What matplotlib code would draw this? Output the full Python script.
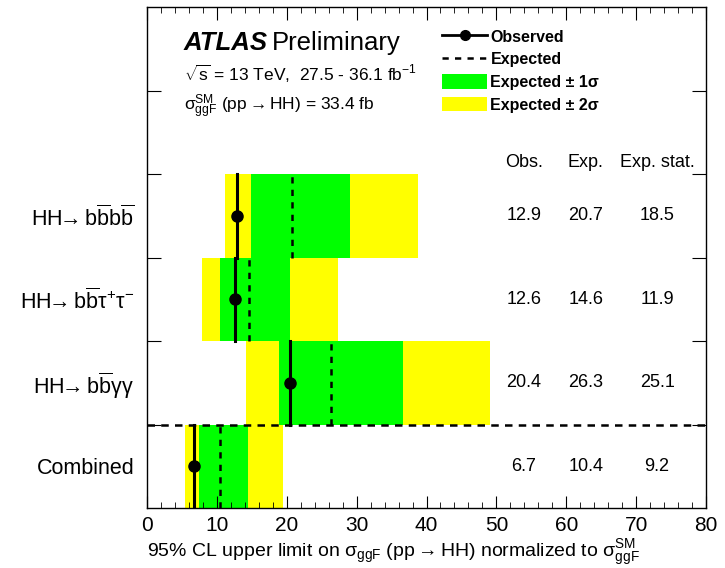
import matplotlib
matplotlib.use('Agg')
import matplotlib.pyplot as plt
from matplotlib.lines import Line2D
from matplotlib.patches import Patch
import numpy as np

plt.rcParams['font.family'] = ['Liberation Sans', 'DejaVu Sans']
plt.rcParams['mathtext.fontset'] = 'custom'
plt.rcParams['mathtext.rm'] = 'Liberation Sans'
plt.rcParams['mathtext.it'] = 'Liberation Sans'
plt.rcParams['mathtext.bf'] = 'Liberation Sans:bold'

arrow = r'$\!\!\rightarrow\!\!$'

# channels from bottom to top
channels = ['Combined',
            'HH' + arrow + r' b$\overline{\mathrm{b}}$γγ',
            'HH' + arrow + r' b$\overline{\mathrm{b}}$τ$^{+}$τ$^{-}$',
            'HH' + arrow + r' b$\overline{\mathrm{b}}$b$\overline{\mathrm{b}}$']
obs = [6.7, 20.4, 12.6, 12.9]
exp = [10.4, 26.3, 14.6, 20.7]
exp_stat = [9.2, 25.1, 11.9, 18.5]
m2s = [5.5, 14.1, 7.8, 11.2]
m1s = [7.4, 18.9, 10.5, 14.9]
p1s = [14.4, 36.6, 20.4, 29.0]
p2s = [19.4, 49.1, 27.4, 38.8]

green = '#00ff00'
yellow = '#ffff00'

fig = plt.figure(figsize=(7.25, 5.68), dpi=100)
ax = fig.add_axes([147/725, 60/568, 559/725, 501/568])

for i in range(len(channels)):
    ax.fill_betweenx([i, i + 1], m2s[i], p2s[i], color=yellow, lw=0)
    ax.fill_betweenx([i, i + 1], m1s[i], p1s[i], color=green, lw=0)
    ax.plot([exp[i], exp[i]], [i, i + 1], color='black', ls=(0, (2.5, 2.5)), lw=1.8)
    ax.plot([obs[i], obs[i]], [i, i + 1], color='black', lw=2.2)
    ax.plot(obs[i], i + 0.5, 'o', color='black', ms=8)
    ax.text(53.9, i + 0.5, f'{obs[i]}', ha='center', va='center', fontsize=13)
    ax.text(62.8, i + 0.5, f'{exp[i]}', ha='center', va='center', fontsize=13)
    ax.text(73.0, i + 0.5, f'{exp_stat[i]}', ha='center', va='center', fontsize=13)

ax.text(53.9, 4.14, 'Obs.', ha='center', va='center', fontsize=13)
ax.text(62.8, 4.14, 'Exp.', ha='center', va='center', fontsize=13)
ax.text(73.0, 4.14, 'Exp. stat.', ha='center', va='center', fontsize=13)

ax.axhline(1, color='black', ls=(0, (3, 2.5)), lw=1.8)

ax.set_xlim(0, 80)
ax.set_ylim(0, 6)
ax.set_xticks(np.arange(0, 81, 10))
ax.set_xticks(np.arange(0, 81, 2), minor=True)
ax.set_yticks([1, 2, 3, 4, 5])
ax.set_yticklabels([])
ax.set_yticks([0.5, 1.5, 2.5, 3.5], channels, minor=True)
ax.tick_params(axis='x', which='both', direction='in', top=True, labelsize=15, pad=6)
ax.tick_params(axis='x', which='major', length=9)
ax.tick_params(axis='x', which='minor', length=4.5)
ax.tick_params(axis='y', which='major', direction='in', left=True, right=True, length=10)
ax.tick_params(axis='y', which='minor', length=0, labelsize=15.5, pad=9)
for s in ax.spines.values():
    s.set_linewidth(1.0)

ax.set_xlabel('95% CL upper limit on σ$_{\\mathrm{ggF}}$ (pp ' + arrow + ' HH) normalized to σ$_{\\mathrm{ggF}}^{\\mathrm{SM}}$',
              fontsize=14, labelpad=2, x=0.44)

ax.text(0.066, 0.915, 'ATLAS', transform=ax.transAxes, fontsize=18.5, fontweight='bold', style='italic')
ax.text(0.224, 0.915, 'Preliminary', transform=ax.transAxes, fontsize=18.5)
ax.text(0.066, 0.853, r'$\sqrt{\mathrm{s}}$ = 13 TeV,  27.5 - 36.1 fb$^{\mathregular{-1}}$', transform=ax.transAxes, fontsize=12.5)
ax.text(0.066, 0.793, 'σ$_{\\mathrm{ggF}}^{\\mathrm{SM}}$ (pp ' + arrow + ' HH) = 33.4 fb', transform=ax.transAxes, fontsize=12.5)

handles = [Line2D([], [], color='black', lw=2, marker='o', ms=7),
           Line2D([], [], color='black', lw=1.8, ls=(0, (2.5, 2.5))),
           Patch(color=green, lw=0),
           Patch(color=yellow, lw=0)]
labels = ['Observed', 'Expected', 'Expected ± 1σ', 'Expected ± 2σ']
ax.legend(handles, labels, loc='upper left', bbox_to_anchor=(0.5, 0.988), frameon=False,
          prop={'weight': 'bold', 'size': 11.5}, handlelength=2.8, handleheight=1.05,
          labelspacing=0.42, handletextpad=0.2, borderaxespad=0.6)

plt.savefig('out.png', dpi=100)
